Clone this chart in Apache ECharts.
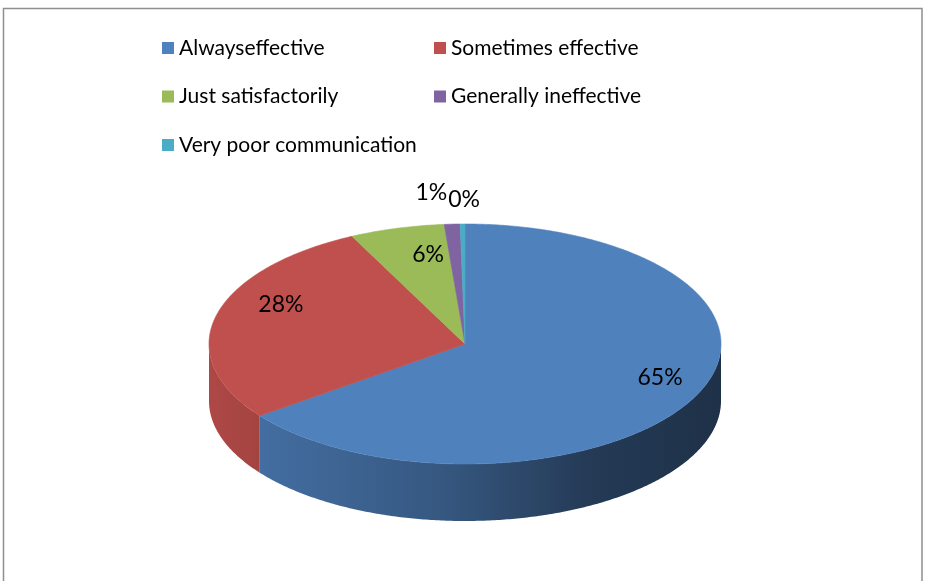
<!DOCTYPE html>
<html>
<head>
<meta charset="utf-8">
<script src="https://cdn.jsdelivr.net/npm/echarts@6/dist/echarts.min.js"></script>
<style>
html,body{margin:0;padding:0;background:#fff;}
#chart{width:926px;height:581px;}
</style>
</head>
<body>
<div id="chart"></div>
<script>
// ---- data ----
const categories = ['Alwayseffective', 'Sometimes effective', 'Just satisfactorily', 'Generally ineffective', 'Very poor communication'];
const values = [65, 28, 6, 1, 0.3];
const colors = ['#4f81bd', '#c0504d', '#9bbb59', '#8064a2', '#4bacc6'];

// ---- layout (pixels) ----
const CX = 465, CY = 344, RX = 256, RY = 120, DEPTH = 57;
const FONT = 'Lato, "Liberation Sans", sans-serif';
// label placement: radial factor and pixel nudge per slice
const labelRadius = [0.8, 0.8, 0.6, 1.3, 1.2];
const labelNudge = [[12, -9], [15, -17], [4, -20], [-17, 4], [2, 0]];

const total = values.reduce((a, b) => a + b, 0);
const startA = [], endA = [];
let acc = 0;
values.forEach((v, i) => {
  startA.push(acc / total * Math.PI * 2);
  acc += v;
  endA.push(acc / total * Math.PI * 2);
});

function pt(t, dy) {
  return [CX + RX * Math.sin(t), CY - RY * Math.cos(t) + (dy || 0)];
}
function shade(hex, f) {
  const n = parseInt(hex.slice(1), 16);
  const r = Math.round(((n >> 16) & 255) * f), g = Math.round(((n >> 8) & 255) * f), b = Math.round((n & 255) * f);
  return 'rgb(' + r + ',' + g + ',' + b + ')';
}

function renderItem(params, api) {
  const i = params.seriesIndex;
  const a1 = startA[i], a2 = endA[i];
  const col = colors[i];
  const children = [];
  // visible front side
  const s = Math.max(a1, Math.PI / 2), e = Math.min(a2, Math.PI * 1.5);
  if (e > s) {
    const pts = [];
    const n = Math.max(2, Math.ceil((e - s) / 0.01));
    for (let k = 0; k <= n; k++) pts.push(pt(s + (e - s) * k / n));
    for (let k = n; k >= 0; k--) pts.push(pt(s + (e - s) * k / n, DEPTH));
    children.push({
      type: 'polygon', z2: 1,
      shape: { points: pts },
      style: {
        fill: {
          type: 'linear', global: true, x: CX - RX, y: 0, x2: CX + RX, y2: 0,
          colorStops: [
            { offset: 0, color: shade(col, 0.9) },
            { offset: 0.45, color: shade(col, 0.68) },
            { offset: 0.75, color: shade(col, 0.45) },
            { offset: 1, color: shade(col, 0.38) }
          ]
        },
        stroke: null
      }
    });
  }
  // top face
  const top = [[CX, CY]];
  const m = Math.max(2, Math.ceil((a2 - a1) / 0.01));
  for (let k = 0; k <= m; k++) top.push(pt(a1 + (a2 - a1) * k / m));
  children.push({
    type: 'polygon', z2: 10,
    shape: { points: top },
    style: { fill: col, stroke: col, lineWidth: 0.6 }
  });
  // label
  const mid = (a1 + a2) / 2;
  const f = labelRadius[i];
  const lx = CX + f * RX * Math.sin(mid) + labelNudge[i][0];
  const ly = CY - f * RY * Math.cos(mid) + labelNudge[i][1];
  children.push({
    type: 'text', z2: 20,
    style: {
      text: Math.round(values[i] / total * 100) + '%',
      x: lx, y: ly, align: 'center', verticalAlign: 'middle',
      fill: '#000', font: '23px ' + FONT
    }
  });
  return { type: 'group', children: children };
}

const chart = echarts.init(document.getElementById('chart'), null, { renderer: 'canvas' });
const legendText = { fontFamily: FONT, fontSize: 21, color: '#000', lineHeight: 24 };
chart.setOption({
  animation: false,
  color: colors,
  graphic: [{
    type: 'rect', silent: true,
    shape: { x: 3.5, y: 8.5, width: 918.5, height: 600 },
    style: { fill: null, stroke: '#8f8f8f', lineWidth: 1.5 }
  }],
  legend: [
    {
      data: [categories[0], categories[2], categories[4]],
      orient: 'vertical', left: 162, top: 36, padding: 0,
      icon: 'rect', itemWidth: 12, itemHeight: 12, itemGap: 24.5, itemTextGap: 7,
      textStyle: legendText, selectedMode: false
    },
    {
      data: [categories[1], categories[3]],
      orient: 'vertical', left: 434, top: 36, padding: 0,
      icon: 'rect', itemWidth: 12, itemHeight: 12, itemGap: 24.5, itemTextGap: 7,
      textStyle: legendText, selectedMode: false
    }
  ],
  series: categories.map((name, i) => ({
    type: 'custom',
    name: name,
    coordinateSystem: 'none',
    itemStyle: { color: colors[i] },
    renderItem: renderItem,
    data: [[values[i]]]
  }))
});
</script>
</body>
</html>
